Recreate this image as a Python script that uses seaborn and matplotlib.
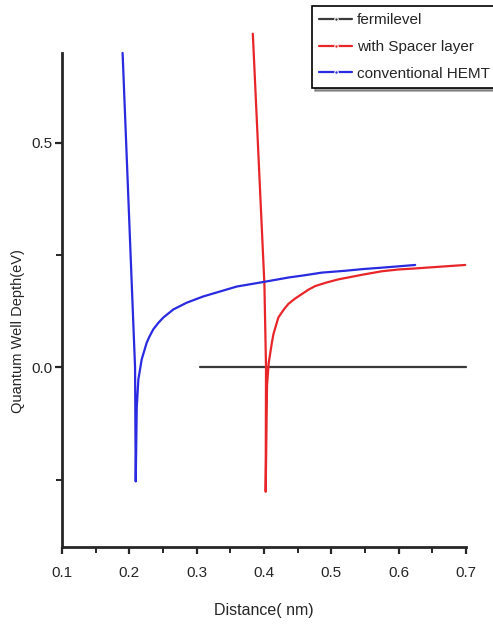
import matplotlib
matplotlib.use("Agg")
import matplotlib.pyplot as plt
import seaborn as sns
import pandas as pd
from matplotlib.ticker import MultipleLocator, FormatStrFormatter

sns.set_style("ticks")
plt.rcParams['font.family'] = ['Liberation Sans', 'DejaVu Sans']

# Series data
fermi_x = [0.305, 0.700]
fermi_y = [0.0, 0.0]

spacer_x = [0.3834, 0.4006, 0.4030, 0.4025, 0.4045, 0.4070, 0.4090, 0.4115,
            0.4140, 0.4213, 0.4290, 0.4360, 0.4460, 0.4560, 0.4660, 0.4760, 0.4930,
            0.5106, 0.5280, 0.5450, 0.5600, 0.5750, 0.6000, 0.6220, 0.6600, 0.6988]
spacer_y = [0.743, 0.185, 0.000, -0.277, -0.040, 0.010, 0.029, 0.053,
            0.074, 0.111, 0.128, 0.141, 0.153, 0.163, 0.173, 0.181, 0.189,
            0.196, 0.201, 0.206, 0.210, 0.214, 0.218, 0.220, 0.224, 0.228]

conv_x = [0.1900, 0.2085, 0.2095, 0.2110, 0.2134, 0.2184, 0.2258, 0.2300,
          0.2357, 0.2430, 0.2505, 0.2654, 0.2852, 0.3100, 0.3348, 0.3596, 0.3870,
          0.4100, 0.4360, 0.4600, 0.4860, 0.5200, 0.5480, 0.5750, 0.6000, 0.6245]
conv_y = [0.700, 0.000, -0.254, -0.090, -0.027, 0.018, 0.055, 0.069,
          0.085, 0.099, 0.111, 0.129, 0.144, 0.158, 0.169, 0.180, 0.187,
          0.193, 0.200, 0.205, 0.211, 0.215, 0.219, 0.222, 0.225, 0.228]

labels = ["fermilevel", "with Spacer layer", "conventional HEMT"]
colors = ["#3a3a3a", "#e8262a", "#2a2ae0"]

fig = plt.figure(figsize=(4.93, 6.28), dpi=100)
ax = fig.add_axes([62/493, 1-547/628, 404/493, 494/628])

series = [(fermi_x, fermi_y), (spacer_x, spacer_y), (conv_x, conv_y)]
for (xs, ys), lab, col in zip(series, labels, colors):
    df = pd.DataFrame({"x": xs, "y": ys})
    sns.lineplot(data=df, x="x", y="y", ax=ax, color=col, lw=1.6, sort=False,
                 estimator=None, label=lab, clip_on=False)

ax.set_xlim(0.1, 0.7)
ax.set_ylim(-0.40, 0.70)
ax.xaxis.set_major_locator(MultipleLocator(0.1))
ax.xaxis.set_minor_locator(MultipleLocator(0.05))
ax.yaxis.set_major_locator(MultipleLocator(0.5))
ax.yaxis.set_minor_locator(MultipleLocator(0.25))
ax.xaxis.set_major_formatter(FormatStrFormatter('%.1f'))
ax.yaxis.set_major_formatter(FormatStrFormatter('%.1f'))

sns.despine(ax=ax)
for s in ["left", "bottom"]:
    ax.spines[s].set_linewidth(2.0)
ax.tick_params(which="major", direction="out", length=5, width=1.6, labelsize=11)
ax.tick_params(axis="x", which="major", pad=9)
ax.tick_params(axis="y", which="major", pad=2)
ax.tick_params(which="minor", direction="out", length=4, width=1.4)

ax.set_xlabel("Distance( nm)", fontsize=11.5, labelpad=16)
ax.set_ylabel("Quantum Well Depth(eV)", fontsize=10.5)
ax.yaxis.set_label_coords(-0.092, 0.437)

leg = ax.legend(loc="upper left", bbox_to_anchor=(312/493, 1-6/628),
                bbox_transform=fig.transFigure, frameon=True, fancybox=False,
                shadow=True, fontsize=11, handlelength=2.2, handletextpad=0.3,
                borderpad=0.45, labelspacing=0.85, borderaxespad=0)
leg.get_frame().set_edgecolor("black")
leg.get_frame().set_linewidth(1.2)
for h in leg.legend_handles:
    h.set_marker(".")
    h.set_markersize(5)

fig.savefig("out.png", dpi=100)
